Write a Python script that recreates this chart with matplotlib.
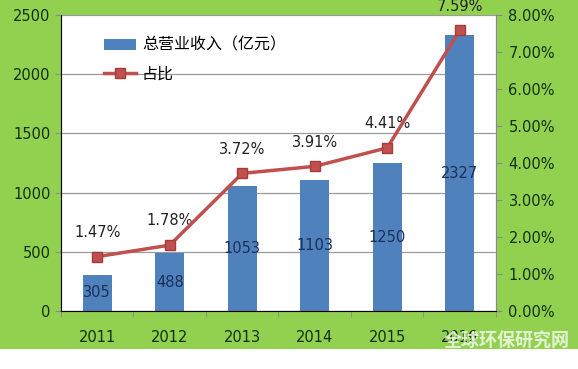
import matplotlib.pyplot as plt
import matplotlib.patches as mpatches
import numpy as np

plt.rcParams['font.family'] = ['DejaVu Sans', 'Noto Sans CJK SC']

years = ["2011", "2012", "2013", "2014", "2015", "2016"]
revenue = [305, 488, 1053, 1103, 1250, 2327]
share = [1.47, 1.78, 3.72, 3.91, 4.41, 7.59]
share_labels = ["1.47%", "1.78%", "3.72%", "3.91%", "4.41%", "7.59%"]

bg_green = "#92D050"
bar_blue = "#4F81BD"
line_red = "#C0504D"
text_dark = "#10300f"

fig = plt.figure(figsize=(5.78, 3.69), dpi=100)
fig.patch.set_facecolor(bg_green)
# white strip along the bottom of the picture
fig.patches.append(mpatches.Rectangle((0, 0), 1, 20 / 369, transform=fig.transFigure,
                                      facecolor="white", edgecolor="none", zorder=0))

ax = fig.add_axes([61 / 578, 1 - 311 / 369, 435 / 578, 296 / 369])
ax.set_facecolor("white")
x = np.arange(len(years))
bars = ax.bar(x, revenue, width=0.4, color=bar_blue, zorder=2, label="总营业收入（亿元）")
ax.set_ylim(0, 2500)
ax.set_xlim(-0.5, len(years) - 0.5)
ax.set_yticks(np.arange(0, 2501, 500))
ax.yaxis.grid(True, color="#9a9a9a", linewidth=0.9, zorder=0)
ax.set_axisbelow(True)
for rect, v in zip(bars, revenue):
    ax.text(rect.get_x() + rect.get_width() / 2, v / 2, str(v), ha="center", va="center",
            fontsize=10.5, color="#1b2f5a", zorder=5)

ax.set_xticks(x)
ax.set_xticklabels(years, fontsize=10.5, color=text_dark)
ax.set_xticks(np.arange(-0.5, len(years)), minor=True)
ax.tick_params(axis="x", which="major", length=0, pad=14)
ax.tick_params(axis="x", which="minor", length=4, color="#8a8a8a")
ax.tick_params(axis="y", labelsize=10.5, labelcolor=text_dark, length=4, color="#8a8a8a")
ax.spines["top"].set_visible(False)
for s in ["left", "bottom", "right"]:
    ax.spines[s].set_color("#8a8a8a")

ax2 = ax.twinx()
ax2.plot(x, share, color=line_red, linewidth=2.5, marker="s", markersize=7,
         markerfacecolor=line_red, markeredgecolor="#a33c3a", zorder=4, label="占比")
ax2.set_ylim(0, 8)
ax2.set_yticks(np.arange(0, 8.01, 1))
ax2.set_yticklabels([f"{t:.2f}%" for t in np.arange(0, 8.01, 1)])
ax2.tick_params(axis="y", labelsize=10.5, labelcolor=text_dark, length=4, color="#8a8a8a", pad=5)
ax2.spines["top"].set_visible(False)
ax2.spines["right"].set_color("#8a8a8a")
for xi, yi, lab in zip(x, share, share_labels):
    ax2.text(xi, yi + 0.45, lab, ha="center", va="bottom", fontsize=10.5, color="#222222")

handles = [bars, ax2.get_lines()[0]]
leg = ax.legend(handles, ["总营业收入（亿元）", "占比"], loc="upper left",
                bbox_to_anchor=(0.065, 0.975), frameon=False,
                handlelength=2.0, handletextpad=0.4, labelspacing=0.75,
                prop={"family": ["Noto Sans CJK SC"], "size": 11.5})

fig.text(0.985, 0.075, "全球环保研究网", ha="right", va="center", fontsize=13,
         color="white", alpha=0.75, family=["Noto Sans CJK SC"], fontweight="bold")

fig.savefig("out.png", dpi=100, facecolor=fig.get_facecolor())
